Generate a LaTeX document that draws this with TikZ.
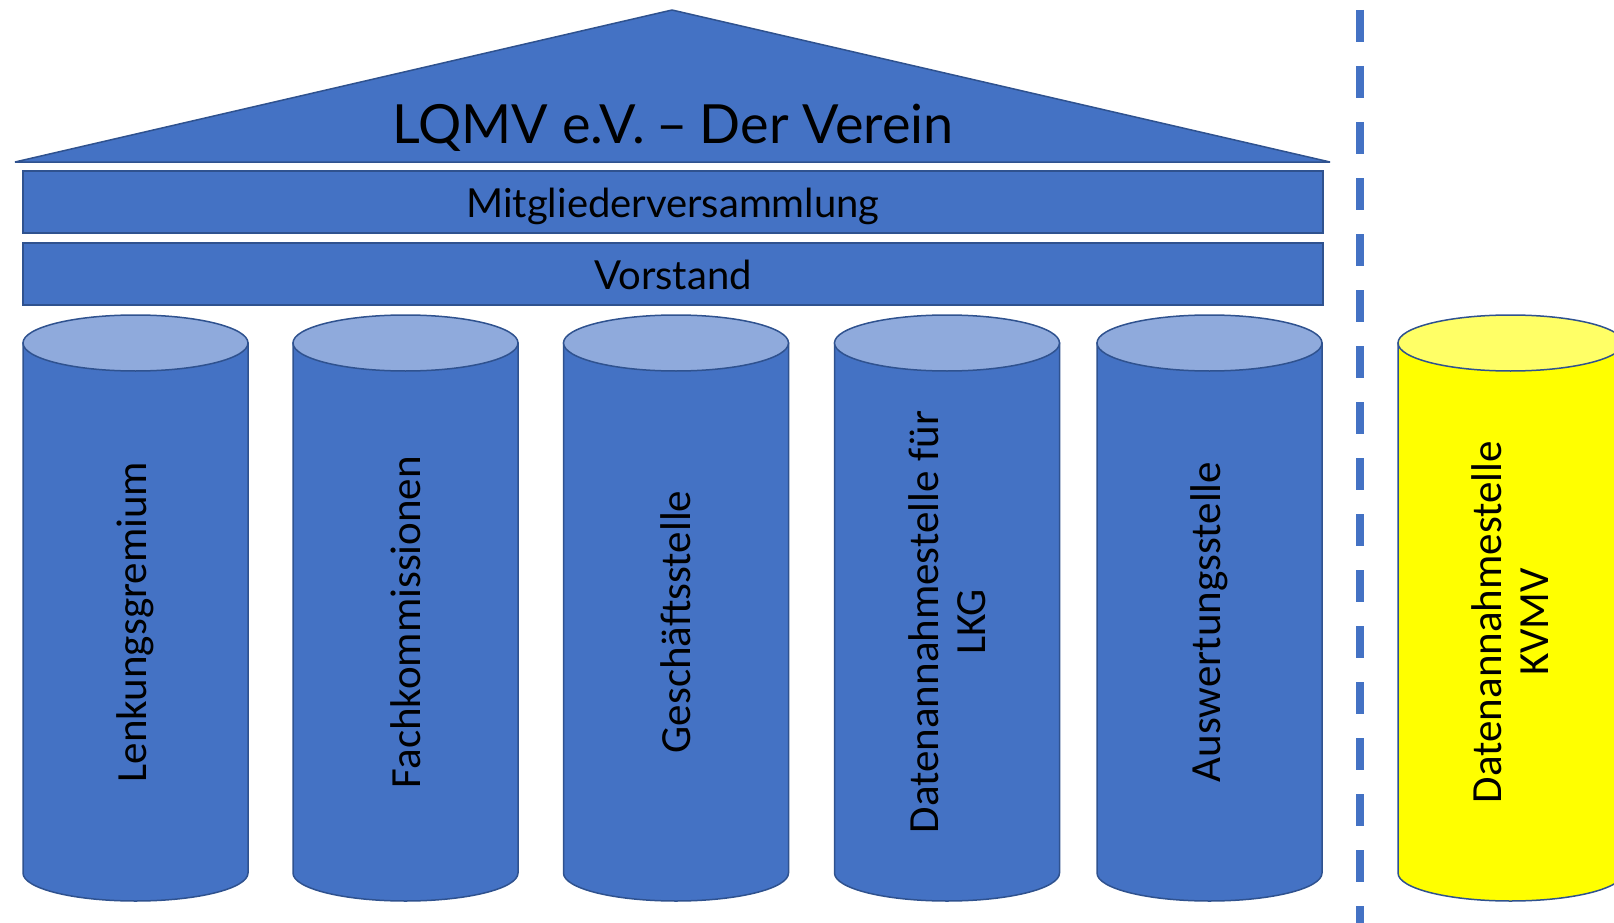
\documentclass[tikz,border=0pt]{standalone}
\usepackage{fontspec}
\setmainfont{Carlito}
\newfontfamily\latofont{Lato}
\definecolor{mainblue}{HTML}{4472C4}
\definecolor{edgeblue}{HTML}{2F528F}
\definecolor{topblue}{HTML}{8FAADC}
\definecolor{mainyellow}{HTML}{FFFF00}
\definecolor{topyellow}{HTML}{FFFF66}
\begin{document}
\begin{tikzpicture}[x=1pt,y=-1pt,
  roof/.style={fill=mainblue,draw=edgeblue,line width=1.5pt,line join=bevel},
  bar/.style={fill=mainblue,draw=edgeblue,line width=2.5pt},
  body/.style={draw=edgeblue,line width=1.5pt},
  cyltext/.style={rotate=90,anchor=center,align=center,font=\fontsize{43}{47}\selectfont},
  bartext/.style={anchor=base,font=\latofont\fontsize{40}{44}\selectfont},
  sep/.style={draw=mainblue,line width=8pt,dash pattern=on 32pt off 24pt}]
\useasboundingbox (0,0) rectangle (1614,923);
% roof
\draw[roof] (15,162) -- (672,10) -- (1330,162) -- cycle;
\node[anchor=base,font=\latofont\fontsize{54}{58}\selectfont] (title) at (673,144) {LQMV e.V.\kern-2pt\ – \kern-2pt Der Verein};
% bars
\draw[bar] (23,171) rectangle (1323,233);
\node[bartext] (mv) at (673,217) {Mitgliederversammlung};
\draw[bar] (23,243) rectangle (1323,305);
\node[bartext] (vs) at (673,289) {Vorstand};
% separator
\coordinate (septop) at (1360,10);
\coordinate (sepbot) at (1360,923);
\draw[sep] (septop) -- (sepbot);
% cylinders
\foreach \cx/\fillc/\topc/\name/\txt in {
  135.5/mainblue/topblue/lg/{Lenkungsgremium},
  405.5/mainblue/topblue/fk/{Fachkommissionen},
  676/mainblue/topblue/gs/{Geschäftsstelle},
  947/mainblue/topblue/da/{Datenannahmestelle für\\LKG},
  1209.5/mainblue/topblue/aw/{Auswertungsstelle},
  1510.5/mainyellow/topyellow/kv/{Datenannahmestelle\\KVMV}} {
  \draw[body,fill=\fillc] (\cx-112.5,343) -- (\cx-112.5,873)
     arc[start angle=180,end angle=0,x radius=112.5,y radius=28]
     -- (\cx+112.5,343) -- cycle;
  \draw[body,fill=\topc] (\cx,343) ellipse[x radius=112.5,y radius=28];
  \node[cyltext] (\name) at (\cx,622) {\txt};
}
\end{tikzpicture}
\end{document}
